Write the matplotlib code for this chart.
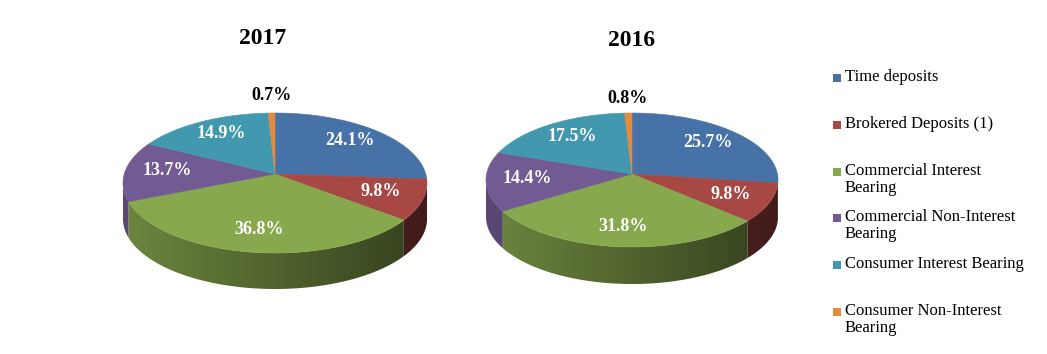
import numpy as np
import matplotlib.pyplot as plt
from matplotlib.patches import Polygon, Rectangle

plt.rcParams['font.family'] = ['Liberation Serif', 'DejaVu Serif']

legend_labels = ['Time deposits', 'Brokered Deposits (1)', 'Commercial Interest\nBearing',
                 'Commercial Non-Interest\nBearing', 'Consumer Interest Bearing',
                 'Consumer Non-Interest\nBearing']
share_2017 = [24.1, 9.8, 36.8, 13.7, 14.9, 0.7]
share_2016 = [25.7, 9.8, 31.8, 14.4, 17.5, 0.8]
years = ['2017', '2016']
colors = ['#4672A8', '#A74845', '#88A84E', '#725A93', '#4298AF', '#E58A3D']


def draw_pie(ax, values, cx, cy, rx, ry, depth, lift):
    vals = np.array(values) / sum(values)
    edges = 90 - 360 * np.concatenate([[0], np.cumsum(vals)])
    ax_y = cy - lift

    # side of the cylinder (front half only), shaded darker to the right
    xs = np.linspace(cx - rx, cx + rx, 300)
    u = (xs - xs[0]) / (xs[-1] - xs[0])
    f = 0.80 - 0.42 * u
    for i in range(len(vals)):
        a0, a1 = edges[i], edges[i + 1]
        hi, lo = min(a0, 0), max(a1, -180)
        if hi <= lo:
            continue
        t = np.radians(np.linspace(hi, lo, 200))
        px = cx + rx * np.cos(t)
        py = cy - ry * np.sin(t)
        pts = list(zip(px, py)) + list(zip(px[::-1], py[::-1] + depth))
        poly = Polygon(pts, closed=True, fc='none', ec='none')
        ax.add_patch(poly)
        rgb = np.array(plt.matplotlib.colors.to_rgb(colors[i]))
        img = (f[:, None] * rgb[None, :])[None, :, :]
        im = ax.imshow(img, extent=(cx - rx, cx + rx, cy + ry + depth, cy - ry),
                       aspect='auto', interpolation='bilinear', zorder=1)
        im.set_clip_path(poly)

    # top face
    for i in range(len(vals)):
        t = np.radians(np.linspace(edges[i], edges[i + 1], max(int(abs(edges[i] - edges[i + 1])), 2)))
        pts = [(cx, ax_y)] + list(zip(cx + rx * np.cos(t), cy - ry * np.sin(t)))
        ax.add_patch(Polygon(pts, closed=True, fc=colors[i], ec=colors[i], lw=0.4, zorder=2))

    # labels
    for i, v in enumerate(values):
        m = np.radians((edges[i] + edges[i + 1]) / 2)
        if vals[i] < 0.02:
            x = cx + 1.12 * rx * np.cos(m)
            y = ax_y - 1.12 * ry * np.sin(m)
            col = 'black'
        else:
            x = cx + 0.72 * rx * np.cos(m)
            y = cy - lift / 2 - 0.74 * ry * np.sin(m)
            col = 'white'
        ax.text(x, y, f'{v:.1f}%', color=col, fontsize=13, fontweight='bold',
                ha='center', va='center', zorder=3)


fig = plt.figure(figsize=(10.47, 3.54), dpi=100)
ax = fig.add_axes([0, 0, 1, 1])

draw_pie(ax, share_2017, 275, 183, 152, 70, 36, 9)
draw_pie(ax, share_2016, 632, 180, 146, 67, 37, 6)

ax.text(263, 38, years[0], fontsize=17, fontweight='bold', ha='center', va='center')
ax.text(632, 40, years[1], fontsize=17, fontweight='bold', ha='center', va='center')

# legend
leg_y = [78, 125, 172, 218, 265, 312]
for c, lab, y in zip(colors, legend_labels, leg_y):
    ax.add_patch(Rectangle((833, y - 4), 8, 8, fc=c, ec='none'))
    ax.text(845, y - 9, lab, fontsize=12, ha='left', va='top', linespacing=1.08)

ax.set_xlim(0, 1047)
ax.set_ylim(354, 0)
ax.axis('off')
fig.savefig('out.png', dpi=100)
